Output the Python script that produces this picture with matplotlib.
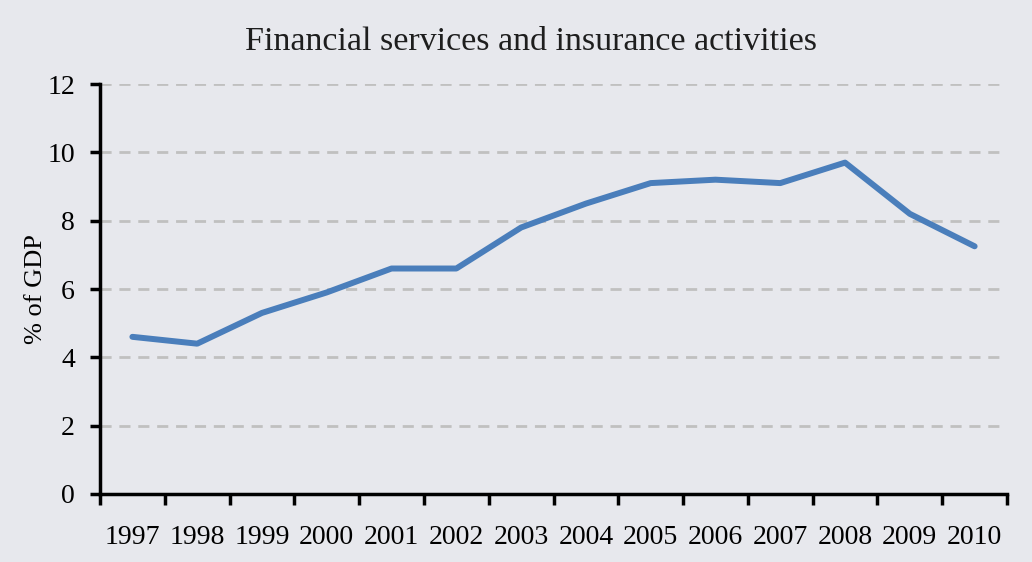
import matplotlib.pyplot as plt
import numpy as np

years = ["1997", "1998", "1999", "2000", "2001", "2002", "2003",
         "2004", "2005", "2006", "2007", "2008", "2009", "2010"]
share_gdp = [4.6, 4.4, 5.3, 5.9, 6.6, 6.6, 7.8, 8.5, 9.1, 9.2, 9.1, 9.7, 8.2, 7.25]

bg = "#e7e8ed"
plt.rcParams["font.family"] = ["Liberation Serif", "DejaVu Serif"]

fig = plt.figure(figsize=(10.32, 5.62), dpi=100, facecolor=bg)
ax = fig.add_axes([0.0969, 0.121, 0.8789, 0.7295], facecolor=bg)

x = np.arange(len(years))
ax.plot(x, share_gdp, color="#4a7ebb", lw=4.3, solid_capstyle="round",
        solid_joinstyle="round", zorder=3)

ax.set_xlim(-0.5, len(years) - 0.5)
ax.set_ylim(0, 12)
ax.set_yticks(range(0, 13, 2))

# category boundaries carry the tick marks, centres carry the labels
ax.set_xticks(np.arange(-0.5, len(years), 1.0))
ax.set_xticklabels([])
ax.set_xticks(x, minor=True)
ax.set_xticklabels(years, minor=True)
ax.tick_params(axis="x", which="major", direction="out", length=8, width=2.5)
ax.tick_params(axis="x", which="minor", length=0, pad=22, labelsize=20)
ax.tick_params(axis="y", direction="out", length=7, width=2.5, pad=11, labelsize=20)

for y in range(2, 13, 2):
    ax.axhline(y, color="#c0c0c0", lw=2, dashes=(4, 2.8), zorder=1)

for side in ("top", "right"):
    ax.spines[side].set_visible(False)
for side in ("left", "bottom"):
    ax.spines[side].set_linewidth(2.5)
    ax.spines[side].set_color("black")

ax.set_ylabel("% of GDP", fontsize=19)
ax.yaxis.set_label_coords(-0.0585, 0.5)
fig.text(0.5145, 0.925, "Financial services and insurance activities",
         ha="center", va="center", fontsize=24.5, color="#1e1e1e")

fig.savefig("out.png", dpi=100, facecolor=bg)
